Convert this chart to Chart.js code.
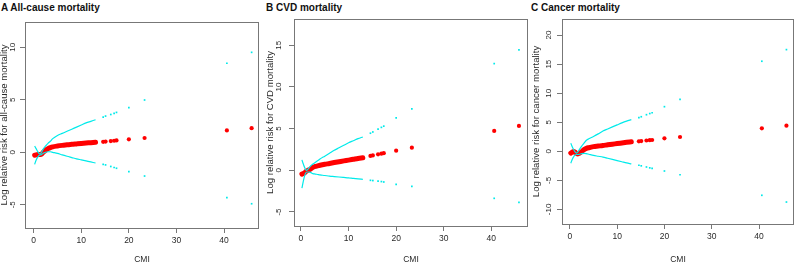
<!DOCTYPE html>
<html>
<head>
<meta charset="utf-8">
<script src="https://cdn.jsdelivr.net/npm/chart.js@4/dist/chart.umd.min.js"></script>
<style>
  body { margin: 0; background: #fff; width: 798px; height: 265px; position: relative; overflow: hidden; }
  .panel { position: absolute; top: 0; width: 266px; height: 265px; }
  .ttl { position: absolute; top: 1px; font: bold 10px/13px "Liberation Sans", Arial, sans-serif; color: #111; white-space: nowrap; }
</style>
</head>
<body>
<div class="ttl" style="left:1px">A All-cause mortality</div>
<div class="ttl" style="left:266px">B CVD mortality</div>
<div class="ttl" style="left:531px">C Cancer mortality</div>
<div class="panel" style="left:0"><canvas id="cA" width="266" height="265"></canvas></div>
<div class="panel" style="left:266px"><canvas id="cB" width="266" height="265"></canvas></div>
<div class="panel" style="left:532px"><canvas id="cC" width="266" height="265"></canvas></div>
<script>
// CMI values: dense part of the curve (<= 13) followed by the sparse tail
const cmi = [0.2, 0.5, 0.8, 1.1, 1.4, 1.7, 2.0, 2.5, 3, 3.5, 4, 5, 6, 7, 8, 9, 10, 11, 12, 13,
             14.6, 15.1, 16.2, 16.9, 17.4, 20, 23.3, 40.6, 45.8];

// A: all-cause mortality
const fitA   = [-0.28, -0.25, -0.2, -0.2, -0.2, -0.15, 0.0, 0.2, 0.35, 0.45, 0.52, 0.6, 0.66, 0.71, 0.76, 0.8, 0.84, 0.88, 0.92, 0.96,
                1.0, 1.02, 1.07, 1.1, 1.13, 1.24, 1.36, 2.08, 2.3];
const upperA = [0.6, 0.35, 0.1, -0.1, -0.15, 0.05, 0.3, 0.6, 0.85, 1.05, 1.3, 1.6, 1.8, 2.0, 2.2, 2.4, 2.6, 2.8, 2.95, 3.1,
                3.35, 3.45, 3.6, 3.7, 3.8, 4.25, 4.98, 8.48, 9.52];
const lowerA = [-1.15, -0.75, -0.5, -0.3, -0.25, -0.2, -0.1, 0.0, 0.05, 0.05, 0.0, -0.1, -0.25, -0.38, -0.5, -0.62, -0.72, -0.82, -0.92, -1.02,
                -1.15, -1.2, -1.35, -1.45, -1.52, -1.85, -2.26, -4.32, -4.9];

// B: CVD mortality
const fitB   = [-0.45, -0.38, -0.28, -0.12, -0.02, 0.06, 0.15, 0.36, 0.46, 0.53, 0.6, 0.72, 0.82, 0.93, 1.03, 1.13, 1.22, 1.32, 1.42, 1.5,
                1.72, 1.78, 1.92, 2.0, 2.05, 2.35, 2.71, 4.72, 5.32];
const upperB = [1.25, 0.75, 0.3, 0.0, 0.1, 0.3, 0.5, 0.75, 0.95, 1.15, 1.35, 1.7, 2.05, 2.4, 2.7, 3.0, 3.3, 3.55, 3.8, 4.0,
                4.45, 4.6, 4.95, 5.15, 5.3, 6.3, 7.36, 12.8, 14.44];
const lowerB = [-2.15, -1.3, -0.6, -0.25, -0.2, -0.2, -0.25, -0.4, -0.45, -0.5, -0.55, -0.62, -0.7, -0.75, -0.8, -0.85, -0.9, -0.97, -1.03, -1.08,
                -1.2, -1.23, -1.3, -1.35, -1.4, -1.68, -1.92, -3.36, -3.84];

// C: cancer mortality
const fitC   = [-0.3, -0.15, -0.05, -0.15, -0.35, -0.45, -0.35, -0.05, 0.3, 0.5, 0.62, 0.8, 0.9, 1.0, 1.12, 1.23, 1.33, 1.44, 1.55, 1.65,
                1.72, 1.76, 1.86, 1.91, 1.95, 2.24, 2.46, 3.96, 4.41];
const upperC = [1.4, 0.8, 0.3, -0.1, -0.3, -0.1, 0.3, 0.9, 1.4, 1.9, 2.15, 2.55, 3.0, 3.5, 3.85, 4.2, 4.55, 4.9, 5.2, 5.45,
                5.8, 5.95, 6.3, 6.5, 6.64, 7.68, 8.95, 15.5, 17.5];
const lowerC = [-2.05, -1.4, -0.95, -0.65, -0.55, -0.55, -0.5, -0.4, -0.35, -0.4, -0.5, -0.7, -0.85, -1.0, -1.2, -1.4, -1.6, -1.8, -2.0, -2.17,
                -2.4, -2.5, -2.7, -2.85, -2.93, -3.39, -4.03, -7.57, -8.73];

const yTitles = ["Log relative risk for all-cause mortality", "Log relative risk for CVD mortality", "Log relative risk for cancer mortality"];
const xTitle = "CMI";

const RED = "#ff0000";
const CYAN = "#00eaea";
const AXIS = "#777";
const TEXT = "#2a2a2a";
const FONT = "'Liberation Sans', Arial, sans-serif";

const dense = (ys) => cmi.map((x, i) => ({ x, y: ys[i] })).filter((p) => p.x <= 13);
const sparse = (ys) => cmi.map((x, i) => ({ x, y: ys[i] })).filter((p) => p.x > 13);

const boxPlugin = {
    id: "box",
    afterDraw(chart) {
        const { ctx, chartArea: a } = chart;
        ctx.save();
        ctx.strokeStyle = AXIS;
        ctx.lineWidth = 1;
        ctx.strokeRect(Math.round(a.left) + 0.5, Math.round(a.top) + 0.5,
            Math.round(a.right - a.left) - 1, Math.round(a.bottom - a.top));
        ctx.restore();
    },
};

function makeChart(id, fit, upper, lower, yTitle, p) {
    const cyanLine = (ys) => ({
        data: dense(ys), showLine: true, pointRadius: 0, borderColor: CYAN,
        borderWidth: 1.2, cubicInterpolationMode: "monotone", fill: false,
    });
    const cyanDots = (ys) => ({
        data: sparse(ys), pointRadius: 1.2, pointStyle: "rect",
        backgroundColor: CYAN, borderWidth: 0,
    });
    new Chart(document.getElementById(id), {
        type: "scatter",
        data: {
            datasets: [
                cyanLine(upper), cyanLine(lower), cyanDots(upper), cyanDots(lower),
                {
                    data: dense(fit), showLine: true, pointRadius: 0, borderColor: RED,
                    borderWidth: 5, borderCapStyle: "round", cubicInterpolationMode: "monotone",
                },
                {
                    data: sparse(fit), pointRadius: 2.1, backgroundColor: RED, borderWidth: 0,
                },
            ],
        },
        options: {
            responsive: false,
            animation: false,
            events: [],
            layout: { padding: { left: 0, top: p.top, right: p.right, bottom: 0 } },
            plugins: { legend: { display: false }, tooltip: { enabled: false } },
            scales: {
                x: {
                    type: "linear", min: p.xMin, max: p.xMax,
                    afterFit: (s) => { s.height = 265 - p.bottom; },
                    border: { display: false },
                    grid: { drawOnChartArea: false, drawTicks: true, tickLength: 5, color: AXIS },
                    ticks: { stepSize: 10, includeBounds: false, padding: 2.5, color: TEXT, font: { family: FONT, size: 8.5 }, maxRotation: 0 },
                    title: { display: true, text: xTitle, color: TEXT, font: { family: FONT, size: 8.5 }, padding: { top: 0, bottom: 0.5 } },
                },
                y: {
                    type: "linear", min: p.yMin, max: p.yMax,
                    afterFit: (s) => { s.width = p.left; },
                    border: { display: false },
                    grid: { drawOnChartArea: false, drawTicks: true, tickLength: 5, color: AXIS },
                    ticks: { stepSize: 5, includeBounds: false, minRotation: 90, maxRotation: 90, crossAlign: "center",
                             padding: p.tickPad, color: TEXT, font: { family: FONT, size: 8 } },
                    title: { display: true, text: yTitle, color: TEXT, font: { family: FONT, size: 9.6 }, padding: { top: -1, bottom: 0 } },
                },
            },
        },
        plugins: [boxPlugin],
    });
}

makeChart("cA", fitA, upperA, lowerA, yTitles[0],
    { left: 25, right: 7, top: 22, bottom: 228, xMin: -1.83, xMax: 47.35, yMin: -7.21, yMax: 12.41, tickPad: 3.0 });
makeChart("cB", fitB, upperB, lowerB, yTitles[1],
    { left: 28, right: 2, top: 19, bottom: 226, xMin: -1.46, xMax: 47.7, yMin: -6.68, yMax: 18.15, tickPad: 5.7 });
makeChart("cC", fitC, upperC, lowerC, yTitles[2],
    { left: 30, right: 0, top: 19, bottom: 224, xMin: -1.66, xMax: 47.4, yMin: -12.51, yMax: 22.77, tickPad: 2.7 });
</script>
</body>
</html>
